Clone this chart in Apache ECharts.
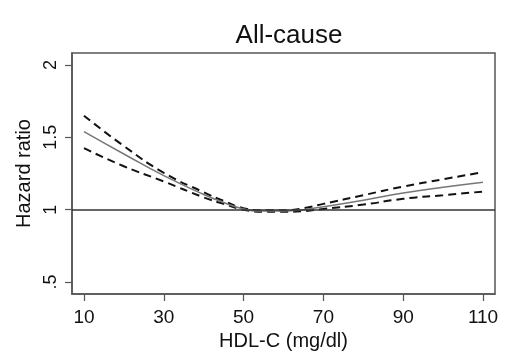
<!DOCTYPE html>
<html><head><meta charset="utf-8">
<script src="https://cdn.jsdelivr.net/npm/echarts@6/dist/echarts.min.js"></script>
<style>html,body{margin:0;padding:0;background:#fff}#c{width:524px;height:361px}</style>
</head><body><div id="c"></div>
<script>
const hdl   = [10, 20, 30, 40, 45, 50, 55, 60, 65, 70, 80, 90, 100, 110];
const hr    = [1.54, 1.385, 1.235, 1.105, 1.05, 1.005, 0.99, 0.99, 1.0, 1.02, 1.065, 1.115, 1.155, 1.19];
const upper = [1.65, 1.44, 1.255, 1.12, 1.06, 1.01, 0.995, 0.995, 1.01, 1.04, 1.10, 1.16, 1.21, 1.26];
const lower = [1.425, 1.30, 1.195, 1.085, 1.04, 1.0, 0.985, 0.985, 0.99, 1.005, 1.035, 1.075, 1.10, 1.125];
const xTicks = [10, 30, 50, 70, 90, 110];
const yTicks = [0.5, 1, 1.5, 2];
const refValue = 1;

const pair = arr => hdl.map((x, i) => [x, arr[i]]);
const font = 'Liberation Sans, Arial, sans-serif';
const chart = echarts.init(document.getElementById('c'), null, {renderer: 'canvas'});
chart.setOption({
  animation: false,
  backgroundColor: '#fff',
  title: {text: 'All-cause', left: 284, textAlign: 'center', top: 18,
    textStyle: {fontFamily: font, fontSize: 26, fontWeight: 'normal', color: '#111'}},
  grid: {left: 72, right: 29, top: 53, bottom: 67, show: true, borderColor: '#555', borderWidth: 1.5},
  xAxis: {type: 'value', min: 7, max: 113,
    name: 'HDL-C (mg/dl)', nameLocation: 'middle', nameGap: 37,
    nameTextStyle: {fontFamily: font, fontSize: 20, color: '#111'},
    axisLine: {show: true, lineStyle: {color: '#555', width: 1.5}},
    axisTick: {show: true, length: 7, customValues: xTicks, lineStyle: {color: '#555', width: 1.2}},
    axisLabel: {customValues: xTicks, margin: 14, fontFamily: font, fontSize: 19, color: '#111'},
    splitLine: {show: false}},
  yAxis: {type: 'value', min: 0.41667, max: 2.08333,
    name: 'Hazard ratio', nameLocation: 'middle', nameGap: 36, nameRotate: 90,
    nameTextStyle: {fontFamily: font, fontSize: 20, color: '#111'},
    axisLine: {show: true, lineStyle: {color: '#555', width: 1.5}},
    axisTick: {show: true, length: 7, customValues: yTicks, lineStyle: {color: '#555', width: 1.2}},
    axisLabel: {customValues: yTicks, rotate: 90, margin: 12, fontFamily: font, fontSize: 18, color: '#111',
      formatter: v => (v === 0.5 ? '.5' : String(v))},
    splitLine: {show: false}},
  series: [
    {type: 'line', data: pair(upper), smooth: true, symbol: 'none',
      lineStyle: {color: '#111', width: 2, type: [8, 5]}, z: 3},
    {type: 'line', data: pair(lower), smooth: true, symbol: 'none',
      lineStyle: {color: '#111', width: 2, type: [8, 5]}, z: 3},
    {type: 'line', data: pair(hr), smooth: true, symbol: 'none',
      lineStyle: {color: '#777', width: 1.5}, z: 4,
      markLine: {silent: true, symbol: 'none', label: {show: false},
        lineStyle: {color: '#333', width: 1.5, type: 'solid'}, data: [{yAxis: refValue}]}}
  ]
});
</script></body></html>
